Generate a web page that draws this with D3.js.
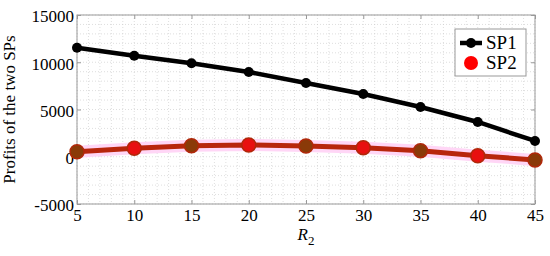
<!DOCTYPE html>
<html>
<head>
<meta charset="utf-8">
<script src="https://cdn.jsdelivr.net/npm/d3@7"></script>
<style>
  body { margin: 0; background: #fff; }
  svg text { font-family: "Liberation Serif", "Times New Roman", "DejaVu Serif", serif; }
</style>
</head>
<body>
<div class="chart"></div>
<script>
var r2 = [5, 10, 15, 20, 25, 30, 35, 40, 45];
var sp1 = [11540, 10690, 9890, 8970, 7800, 6640, 5260, 3680, 1670];
var sp2 = [530, 890, 1170, 1240, 1140, 960, 640, 110, -340];
var xTicks = [5, 10, 15, 20, 25, 30, 35, 40, 45];
var yTicks = [-5000, 0, 5000, 10000, 15000];

var serif = '"Liberation Serif", "Times New Roman", serif';
var margin = {top: 15, right: 15, bottom: 52, left: 77};
var W = 550, H = 256;
var width = W - margin.left - margin.right;
var height = H - margin.top - margin.bottom;

var x = d3.scaleLinear().domain([5, 45]).range([0, width]);
var y = d3.scaleLinear().domain([-5000, 15000]).range([height, 0]);

var svg = d3.select('.chart').append('svg')
    .attr('width', W)
    .attr('height', H)
    .attr('font-family', serif)
  .append('g')
    .attr('transform', 'translate(' + margin.left + ',' + margin.top + ')');

// minor grid
var gridColor = '#c8c8c8';
svg.append('g').selectAll('line')
    .data(d3.range(5, 46, 1))
  .enter().append('line')
    .attr('x1', d => x(d)).attr('x2', d => x(d))
    .attr('y1', 0).attr('y2', height)
    .style('stroke', gridColor).style('stroke-width', 0.6)
    .style('stroke-dasharray', '1,2');
svg.append('g').selectAll('line')
    .data(d3.range(-5000, 15001, 1000))
  .enter().append('line')
    .attr('y1', d => y(d)).attr('y2', d => y(d))
    .attr('x1', 0).attr('x2', width)
    .style('stroke', gridColor).style('stroke-width', 0.6)
    .style('stroke-dasharray', '1,2');

// box
svg.append('rect')
    .attr('width', width).attr('height', height)
    .style('fill', 'none').style('stroke', '#999').style('stroke-width', 1);

// axes with inward ticks
var fmt = d => String(d);
var xAxis = d3.axisBottom(x).tickValues(xTicks).tickFormat(fmt).tickSize(-4).tickPadding(5);
var yAxis = d3.axisLeft(y).tickValues(yTicks).tickFormat(fmt).tickSize(-4).tickPadding(3);

var gx = svg.append('g').attr('transform', 'translate(0,' + height + ')').call(xAxis);
var gy = svg.append('g').call(yAxis);
svg.append('g').call(d3.axisTop(x).tickValues(xTicks).tickSize(-4).tickFormat(''));
svg.append('g').attr('transform', 'translate(' + width + ',0)')
    .call(d3.axisRight(y).tickValues(yTicks).tickSize(-4).tickFormat(''));

[gx, gy].forEach(g => g.attr('font-family', serif).attr('font-size', 17));
svg.selectAll('.domain').remove();
svg.selectAll('.tick line').style('stroke', '#999');
svg.selectAll('.tick text').style('fill', '#000');
gy.selectAll('.tick text').attr('dy', '0.4em');

// axis labels
svg.append('text')
    .attr('transform', 'translate(' + (-62) + ',' + (height / 2) + ') rotate(-90)')
    .attr('text-anchor', 'middle')
    .attr('font-size', 17)
    .text('Profits of the two SPs');

var xl = svg.append('text')
    .attr('x', width / 2)
    .attr('y', height + 36)
    .attr('text-anchor', 'middle')
    .attr('font-size', 17);
xl.append('tspan').style('font-style', 'italic').text('R');
xl.append('tspan').attr('dy', 5).attr('font-size', 13).text('2');

var line = d3.line()
    .x((d, i) => x(r2[i]))
    .y(d => y(d));

// SP2 pink halo
svg.append('path')
    .attr('d', line(sp2))
    .style('fill', 'none')
    .style('stroke', '#ffd6f6')
    .style('stroke-width', 12);

// SP1
svg.append('path')
    .attr('d', line(sp1))
    .style('fill', 'none')
    .style('stroke', '#000')
    .style('stroke-width', 4.5);
svg.append('g').selectAll('circle')
    .data(sp1)
  .enter().append('circle')
    .attr('cx', (d, i) => x(r2[i]))
    .attr('cy', d => y(d))
    .attr('r', 5)
    .style('fill', '#000');

// SP2
svg.append('path')
    .attr('d', line(sp2))
    .style('fill', 'none')
    .style('stroke', '#b8260c')
    .style('stroke-width', 5);
svg.append('g').selectAll('circle')
    .data(sp2)
  .enter().append('circle')
    .attr('cx', (d, i) => x(r2[i]))
    .attr('cy', d => y(d))
    .attr('r', 7)
    .style('fill', (d, i) => i % 2 ? '#e81010' : '#8a3a08')
    .style('stroke', '#b0280a')
    .style('stroke-width', 1.5);

// legend
var lg = svg.append('g').attr('transform', 'translate(' + (455 - margin.left) + ',' + (29 - margin.top) + ')');
lg.append('rect')
    .attr('width', 71).attr('height', 47)
    .style('fill', '#fff').style('stroke', '#999');
var items = [{name: 'SP1', color: '#000', r: 5, w: 4.5}, {name: 'SP2', color: '#ff0000', r: 7, w: 0}];
items.forEach(function(it, i) {
  var cy = 14 + i * 20;
  if (it.w) {
    lg.append('line').attr('x1', 5).attr('x2', 27).attr('y1', cy).attr('y2', cy)
        .style('stroke', it.color).style('stroke-width', it.w);
  }
  lg.append('circle').attr('cx', 16).attr('cy', cy).attr('r', it.r).style('fill', it.color);
  lg.append('text').attr('x', 31).attr('y', cy + 6)
      .attr('font-size', 19).text(it.name);
});
</script>
</body>
</html>
